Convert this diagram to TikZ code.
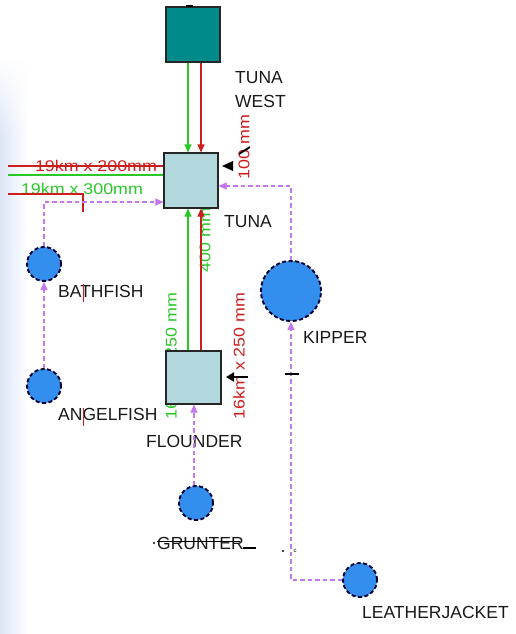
\documentclass[tikz,border=0pt]{standalone}
\usepackage{fontspec}
\setmainfont{Liberation Sans}
\usetikzlibrary{arrows.meta,calc,fadings}
\definecolor{tealbox}{RGB}{0,138,138}
\definecolor{boxfill}{RGB}{178,216,222}
\definecolor{fishblue}{RGB}{52,142,238}
\definecolor{dimred}{RGB}{205,30,30}
\definecolor{dimgreen}{RGB}{40,200,40}
\definecolor{flowpurple}{RGB}{195,120,240}
\definecolor{haze}{RGB}{220,229,247}
\begin{document}
\begin{tikzpicture}[x=1pt,y=-1pt,
 station/.style={draw=black!85,line width=1.1pt,fill=boxfill,minimum width=54pt,minimum height=54pt,inner sep=0},
 fish/.style={circle,draw=black!80!blue,line width=1.9pt,dash pattern=on 4pt off 2.5pt,fill=fishblue,minimum size=34pt,inner sep=0},
 lbl/.style={font=\fontsize{17.5}{24}\selectfont,inner sep=0,anchor=west,text=black!90},
 dim/.style={font=\fontsize{15.5}{17}\selectfont,inner sep=0},
 redpipe/.style={draw=dimred,line width=1.1pt},
 greenpipe/.style={draw=dimgreen,line width=1.1pt},
 flow/.style={draw=flowpurple,line width=1.1pt,dash pattern=on 4.5pt off 3pt},
 tip/.style={-{Triangle[length=8pt,width=7pt]}},
 blackdash/.style={draw=black,line width=2pt},
]
\useasboundingbox (0,0) rectangle (515,634);
\shade[left color=haze,right color=white] (0,60) rectangle (28,634);
\fill[white,path fading=south] (0,58) rectangle (28,140);

% dimension labels drawn under the boxes and lines
\node[dim,text=dimgreen,rotate=90] (g250) at (171,356) {\scalebox{1.15}[1]{16km x 250 mm}};
\node[dim,text=dimred,rotate=90] (r250) at (239,356) {\scalebox{1.15}[1]{16km x 250 mm}};
\node[dim,text=dimgreen,rotate=90] (g400) at (205,240) {\scalebox{1.15}[1]{400 mm}};
\node[dim,text=dimred,rotate=90] (r100) at (244,147) {\scalebox{1.15}[1]{100 mm}};
\node[dim,text=dimred] (d1) at (96,166) {\scalebox{1.15}[1]{19km x 200mm}};
\node[dim,text=dimgreen] (d2) at (82,189) {\scalebox{1.15}[1]{19km x 300mm}};

% stations
\node[station,fill=tealbox,minimum height=55pt] (tw) at (193,34.5) {};
\node[station,minimum height=55pt] (tuna) at (191,180.5) {};
\node[station,minimum width=55pt,minimum height=53pt] (fl) at (193.5,377.5) {};

% fish
\node[fish] (bath) at (44,264) {};
\node[fish] (angel) at (44,386) {};
\node[fish,minimum size=60pt] (kipper) at (291,291) {};
\node[fish] (grunter) at (196,503) {};
\node[fish] (leather) at (360,580) {};

% labels
\node[lbl,align=left,anchor=north west] (twl) at (235,71) {TUNA\\WEST};
\node[lbl] (tunal) at (224,222) {TUNA};
\node[lbl] (bathl) at (58,291) {BATHFISH};
\node[lbl] (angell) at (58,414) {ANGELFISH};
\node[lbl] (fll) at (146,441) {FLOUNDER};
\node[lbl] (kipl) at (303,337) {KIPPER};
\node[lbl] (grl) at (157,543) {GRUNTER};
\node[lbl] (leal) at (362,612) {LEATHERJACKET};
\node[font=\fontsize{6}{6}\selectfont,inner sep=0] (cc) at (295,551) {c};

% pipes between stations
\coordinate (gx) at (188,0);
\coordinate (rx) at (201,0);
\draw[greenpipe,tip] (tw.south -| gx) -- (tuna.north -| gx);
\draw[redpipe,tip] (tw.south -| rx) -- (tuna.north -| rx);
\draw[greenpipe,tip] (fl.north -| gx) -- (tuna.south -| gx);
\draw[redpipe,tip] (fl.north -| rx) -- (tuna.south -| rx);

% pipes from the left
\coordinate (l1) at (8,166);
\draw[redpipe] (l1) -- (l1 -| tuna.west);
\coordinate (l2) at (8,175);
\draw[greenpipe] (l2) -- (l2 -| tuna.west);
\coordinate (l3) at (8,194);
\coordinate (l3e) at (83,194);
\coordinate (l3t) at (83,212);
\draw[redpipe] (l3) -- (l3e) -- (l3t);

% flows
\coordinate (p1) at (0,202);
\draw[flow,tip] (bath.north) |- (tuna.west |- p1);
\coordinate (p2) at (0,186);
\draw[flow,tip] (kipper.north) |- (tuna.east |- p2);
\draw[flow,tip] (angel.north) -- (bath.south);
\coordinate (gf) at (194,0);
\draw[flow,tip] (grunter.north -| gf) -- (fl.south -| gf);
\draw[flow,tip] (leather.west) -| (kipper.south);

% small marks
\draw[black,line width=2pt] (186,6) -- (193,6);
\fill[black] (222,166) -- (233,161) -- (233,171) -- cycle;
\draw[black,line width=1.8pt] (239,154) -- (250,147);
\draw[black,line width=2.4pt,-{Triangle[length=8pt,width=9pt]}] (248,377) -- (226,377);
\draw[blackdash] (285,374) -- (299,374);
\draw[dimred,line width=1pt] (83,284) -- (83,302);
\draw[dimred,line width=1pt] (83,408) -- (83,426);
\draw[black,line width=0.8pt] (157,541) -- (240,541);
\fill[black] (154,543) circle (1.2pt);
\draw[blackdash] (243,548) -- (256,548);
\fill[black] (283,551) circle (1.2pt);
\end{tikzpicture}
\end{document}
